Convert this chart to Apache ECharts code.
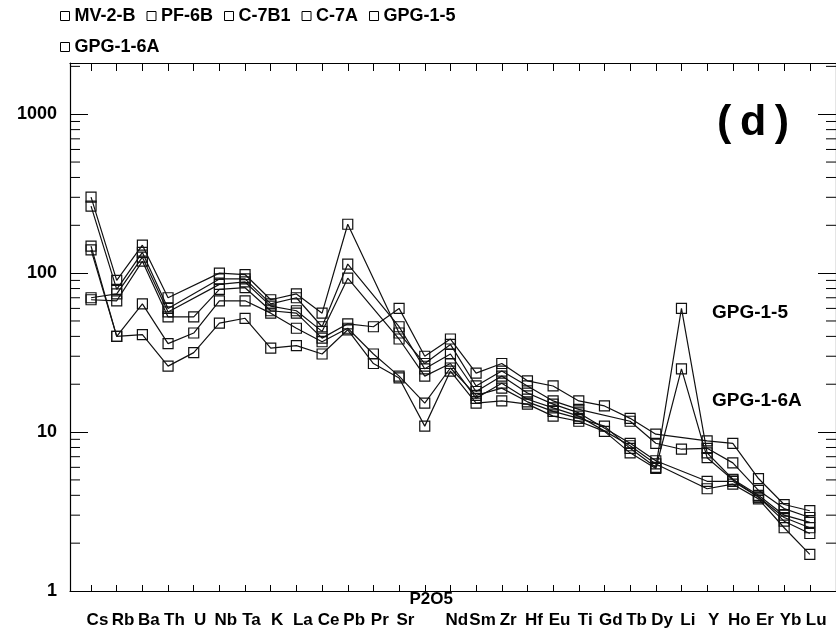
<!DOCTYPE html>
<html><head><meta charset="utf-8">
<script src="https://cdn.jsdelivr.net/npm/echarts@6/dist/echarts.min.js"></script>
<style>html,body{margin:0;padding:0;background:#fff}#c{width:836px;height:635px}</style>
</head><body><div id="c"></div>
<script>
// ---- data ----
const categories = ['Cs','Rb','Ba','Th','U','Nb','Ta','K','La','Ce','Pb','Pr','Sr','P2O5','Nd','Sm','Zr','Hf','Eu','Ti','Gd','Tb','Dy','Li','Y','Ho','Er','Yb','Lu'];
const seriesNames = ['MV-2-B','PF-6B','C-7B1','C-7A','GPG-1-5','GPG-1-6A'];
const MV_2_B   = [301, 90, 150, 70, null, 100, 98, 68, 74, 56, 203, null, 42, 27, 35.6, 19.5, 24.2, 19.5, 15.7, 13.9, null, 11.7, 8.5, 7.8, 7.9, 6.4, 4.3, 3.3, 2.9];
const PF_6B    = [264, 79, 135, 60, null, 92, 92, 64, 70, 46, 114, null, 46, 25, 31, 18, 22.5, 17.6, 15, 13.2, null, 8.5, 6.6, null, 4.9, 4.9, 3.9, 2.75, 2.3];
const C_7B1    = [70, 74, 126, 57, null, 85, 88, 62, 58, 43, 93, null, 38.5, 22.5, 27, 16.3, 20.3, 16.1, 14.2, 12.6, null, 8.2, 6.3, null, 4.4, 4.7, 3.8, 2.5, 1.7];
const C_7A     = [68, 67, 119, 53, 53, 79, 81, 58, 56, 39, 48, 46, 60, 30, 38.5, 23.5, 27, 21, 19.5, 15.7, 14.6, 12.2, 9.7, null, 8.8, 8.5, 5.1, 3.5, 3.2];
const GPG_1_5  = [148, 40, 64, 36, 42, 67, 67, 56, 45, 37, 45, 31, 22.5, 15.2, 25.3, 17, 18.9, 15.5, 13.5, 12.2, 10.9, 7.9, 6.0, 60, 7.4, 5.05, 4.0, 3.0, 2.7];
const GPG_1_6A = [140, 40, 41, 26, 31.6, 48.5, 52, 33.7, 35, 31, 44, 27, 21.9, 10.9, 24.2, 15.2, 15.7, 15, 12.6, 11.7, 10.1, 7.4, 5.9, 25, 6.9, 5.0, 3.9, 2.9, 2.5];
const yMinorTicks = [2,3,4,5,6,7,8,9,20,30,40,50,60,70,80,90,200,300,400,500,600,700,800,900,2000];
const annotations = ['(\u2009d\u2009)', 'GPG-1-5', 'GPG-1-6A'];

const allSeries = [MV_2_B, PF_6B, C_7B1, C_7A, GPG_1_5, GPG_1_6A];
const FONT = '"Liberation Sans", Arial, Helvetica, sans-serif';
const xIdx = categories.map((c, i) => i);
const LABEL_SHIFT = 0.25;
const xLabelPos = xIdx.map(i => i + LABEL_SHIFT);
const X_MIN = -0.82, X_MAX = 29.02;

const chart = echarts.init(document.getElementById('c'));

const lineSeries = allSeries.map((arr, k) => ({
  name: seriesNames[k],
  type: 'line',
  data: arr.map((v, i) => [i, v]),
  connectNulls: true,
  symbol: 'rect',
  symbolSize: 10,
  lineStyle: { color: '#111', width: 1.2 },
  itemStyle: { color: 'rgba(0,0,0,0)', borderColor: '#111', borderWidth: 1.2 },
  emphasis: { disabled: true },
  z: 3
}));

const minorTickSeries = {
  type: 'custom',
  silent: true,
  z: 5,
  data: yMinorTicks.map(v => [0, v]),
  renderItem: function (params, api) {
    const y = api.coord([0, api.value(1)])[1];
    const cs = params.coordSys;
    return {
      type: 'group',
      children: [
        { type: 'line', shape: { x1: cs.x, y1: y, x2: cs.x + 10, y2: y }, style: { stroke: '#000', lineWidth: 1 } },
        { type: 'line', shape: { x1: cs.x + cs.width, y1: y, x2: cs.x + cs.width - 10, y2: y }, style: { stroke: '#000', lineWidth: 1 } }
      ]
    };
  }
};

const isPow10 = v => { const l = Math.log10(v); return Math.abs(l - Math.round(l)) < 1e-6; };

chart.setOption({
  animation: false,
  backgroundColor: '#fff',
  legend: {
    data: seriesNames,
    left: 60, top: 6, width: 480, padding: 0,
    itemWidth: 9, itemHeight: 9, itemGap: 11,
    icon: 'rect',
    itemStyle: { color: 'rgba(0,0,0,0)', borderColor: '#000', borderWidth: 1 },
    textStyle: { fontSize: 18, fontWeight: 'bold', fontFamily: FONT, color: '#000', lineHeight: 20 },
    selectedMode: false
  },
  grid: { left: 70, right: -7, top: 63, bottom: 44, containLabel: false },
  xAxis: [
    {
      type: 'value', min: X_MIN, max: X_MAX, position: 'bottom',
      axisLine: { show: true, onZero: false, lineStyle: { color: '#000', width: 1.2 } },
      splitLine: { show: false },
      axisTick: { show: true, inside: true, length: 6, customValues: xIdx, lineStyle: { color: '#000' } },
      axisLabel: {
        show: true, customValues: xLabelPos, margin: 0, showMinLabel: true, showMaxLabel: true, hideOverlap: false,
        formatter: v => { const n = categories[Math.floor(v + 1e-6)]; return n === 'P2O5' ? '{up|' + n + '}' : '{n|' + n + '}'; },
        rich: {
          n: { fontSize: 17, fontWeight: 'bold', fontFamily: FONT, color: '#000', lineHeight: 58 },
          up: { fontSize: 17, fontWeight: 'bold', fontFamily: FONT, color: '#000', lineHeight: 16 }
        }
      }
    },
    {
      type: 'value', min: X_MIN, max: X_MAX, position: 'top',
      axisLine: { show: true, onZero: false, lineStyle: { color: '#000', width: 1.2 } },
      splitLine: { show: false },
      axisTick: { show: true, inside: true, length: 8, customValues: xIdx, lineStyle: { color: '#000' } },
      axisLabel: { show: false }
    }
  ],
  yAxis: [
    {
      type: 'log', logBase: 10, min: 1, max: 2100, position: 'left',
      axisLine: { show: true, onZero: false, lineStyle: { color: '#000', width: 1.2 } },
      splitLine: { show: false },
      axisTick: { show: true, inside: true, length: 18, lineStyle: { color: '#000' } },
      axisLabel: {
        margin: 13, fontSize: 18, fontWeight: 'bold', fontFamily: FONT, color: '#000',
        formatter: v => isPow10(v) ? String(Math.round(v)) : ''
      }
    },
    {
      type: 'log', logBase: 10, min: 1, max: 2100, position: 'right',
      axisLine: { show: true, onZero: false, lineStyle: { color: '#000', width: 1.2 } },
      splitLine: { show: false },
      axisTick: { show: true, inside: true, length: 18, lineStyle: { color: '#000' } },
      axisLabel: { show: false }
    }
  ],
  graphic: [
    { type: 'text', left: 717, top: 102, style: { text: annotations[0], font: 'bold 43px ' + FONT, fill: '#000' } },
    { type: 'text', left: 712, top: 303, style: { text: annotations[1], font: 'bold 19px ' + FONT, fill: '#000' } },
    { type: 'text', left: 712, top: 391, style: { text: annotations[2], font: 'bold 19px ' + FONT, fill: '#000' } }
  ],
  series: lineSeries.concat([minorTickSeries])
});
</script>
</body></html>
